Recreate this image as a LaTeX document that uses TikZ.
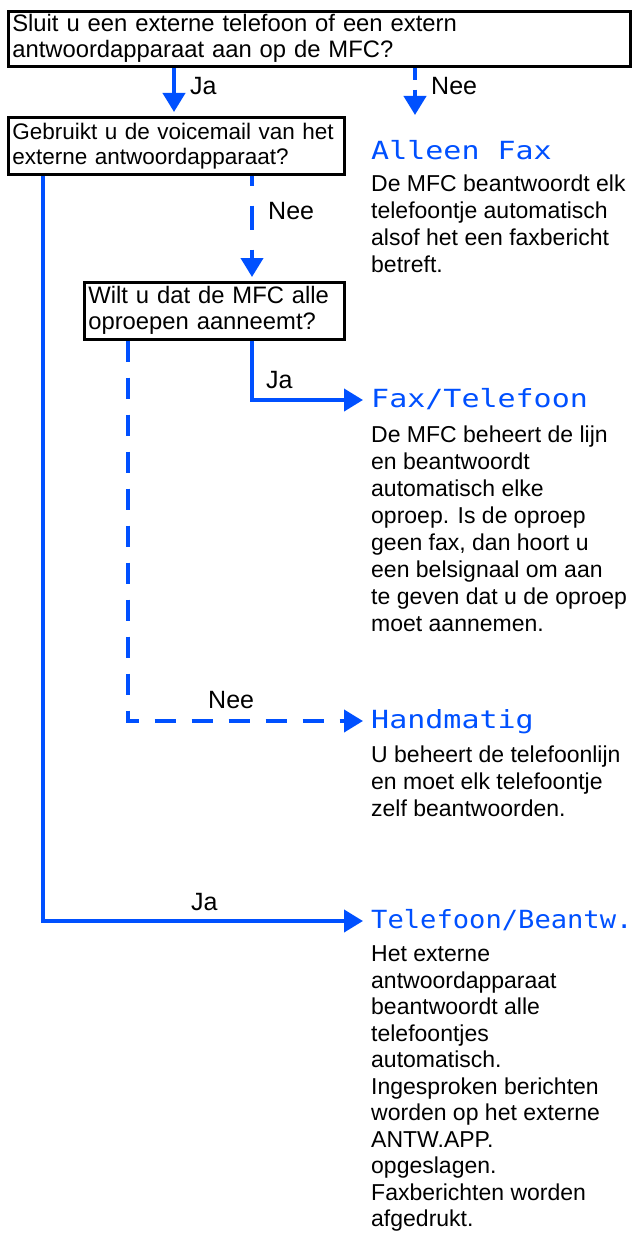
\documentclass[tikz,border=0pt]{standalone}
\usepackage{fontspec}
\setmainfont{Liberation Sans}
\newfontfamily\lcdfont[FakeStretch=1.2]{DejaVu Sans Mono}
\newfontfamily\lcdnarrow[FakeStretch=1.085]{DejaVu Sans Mono}
\usetikzlibrary{arrows.meta}
\definecolor{fcblue}{RGB}{0,80,255}
\tikzset{
  qbox/.style={draw=black, line width=2.6pt, anchor=north west, inner xsep=4pt, inner ysep=0pt, align=left, font=\fontsize{23.8}{26}\selectfont},
  conn/.style={draw=fcblue, line width=4pt, -{Triangle[length=19pt,width=22pt]}},
  dconn/.style={conn, dash pattern=on 21pt off 16pt},
  lbl/.style={anchor=base west, inner sep=0pt, font=\fontsize{25}{28}\selectfont},
  mode/.style={anchor=base west, inner sep=0pt, text height=14pt, text depth=0pt, text=fcblue, font=\lcdfont\fontsize{25}{30}\selectfont},
  desc/.style={anchor=north west, inner sep=0pt, align=left, font=\fontsize{23}{27}\selectfont},
}
\begin{document}
\begin{tikzpicture}[x=1pt,y=-1pt]
\useasboundingbox (0,0) rectangle (632,1233);
% questions
\node[qbox, minimum width=622pt, minimum height=55pt, text width=614pt] (q1) at (7,10)
  {Sluit u een externe telefoon of een extern\\antwoordapparaat aan op de MFC?};
\node[qbox, minimum width=336pt, minimum height=57pt, text width=328pt, font=\fontsize{22.5}{25}\selectfont] (q2) at (7,116)
  {Gebruikt u de voicemail van het\\externe antwoordapparaat?};
\node[qbox, minimum width=260pt, minimum height=57pt, text width=252pt] (q3) at (83,281)
  {Wilt u dat de MFC alle\\oproepen aanneemt?};
% modes
\node[mode] (alleen) at (371,160) {Alleen Fax};
\node[desc] (alleenT) at (371,174.5) {De MFC beantwoordt elk\\telefoontje automatisch\\alsof het een faxbericht\\betreft.};
\node[mode] (fax) at (371,407) {Fax/Telefoon};
\node[desc] (faxT) at (371,425.5) {De MFC beheert de lijn\\en beantwoordt\\automatisch elke\\oproep. Is de oproep\\geen fax, dan hoort u\\een belsignaal om aan\\te geven dat u de oproep\\moet aannemen.};
\node[mode] (hand) at (371,728) {Handmatig};
\node[desc] (handT) at (371,746) {U beheert de telefoonlijn\\en moet elk telefoontje\\zelf beantwoorden.};
\node[mode, font=\lcdnarrow\fontsize{25}{30}\selectfont] (tel) at (371,928) {Telefoon/Beantw.};
\node[desc, font=\fontsize{23}{26.5}\selectfont] (telT) at (371,945.5) {Het externe\\antwoordapparaat\\beantwoordt alle\\telefoontjes\\automatisch.\\Ingesproken berichten\\worden op het externe\\ANTW.APP.\\opgeslagen.\\Faxberichten worden\\afgedrukt.};
% helper coordinates
\coordinate (xJa1) at (174,0);
\coordinate (xNee1) at (415,0);
\coordinate (nee1end) at (415,115);
\coordinate (xL) at (43,0);
\coordinate (xM) at (252,0);
\coordinate (xD) at (128,0);
% connectors
\draw[conn, shorten >=4pt] (q1.south -| xJa1) -- (q2.north -| xJa1);
\node[lbl] (lJa1) at (190,95) {Ja};
\draw[conn, dash pattern=on 12pt off 10pt] (q1.south -| xNee1) -- (nee1end);
\node[lbl] (lNee1) at (431,95) {Nee};
\draw[conn, dash pattern=on 24pt off 20pt, dash phase=14pt, shorten >=4pt] (q2.south -| xM) -- (q3.north -| xM);
\node[lbl] (lNee2) at (268,220) {Nee};
\draw[conn, shorten >=8pt] (q3.south -| xM) |- (fax.west);
\node[lbl] (lJa3) at (266,388) {Ja};
\draw[dconn, shorten >=8pt] (q3.south -| xD) |- (hand.west);
\node[lbl] (lNee3) at (208,708) {Nee};
\draw[conn, shorten >=8pt] (q2.south -| xL) |- (tel.west);
\node[lbl] (lJa2) at (191,910) {Ja};
\end{tikzpicture}
\end{document}
